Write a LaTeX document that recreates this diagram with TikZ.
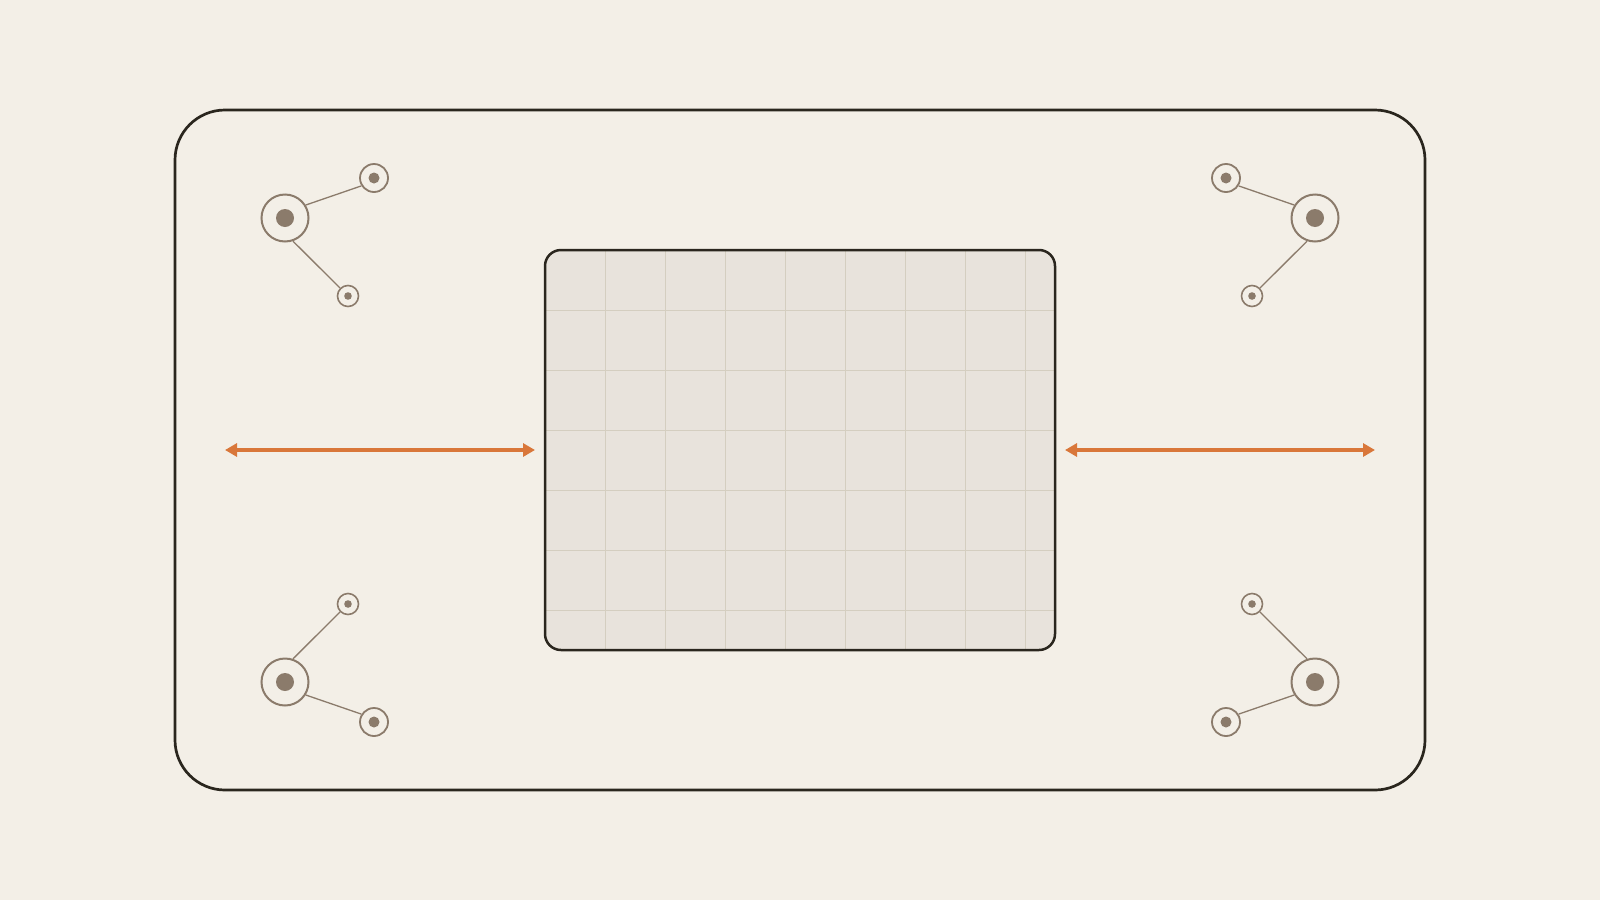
\documentclass[tikz,border=0pt]{standalone}
\usetikzlibrary{arrows.meta}
\definecolor{bg}{HTML}{F3EFE7}
\definecolor{panel}{HTML}{E8E3DC}
\definecolor{gridc}{HTML}{D4CEC0}
\definecolor{ink}{HTML}{2A261E}
\definecolor{nodec}{HTML}{8B7B6B}
\definecolor{arr}{HTML}{D9773A}
\tikzset{
  hub/.style={circle,draw=nodec,fill=bg,line width=2pt,inner sep=0pt,outer sep=1pt,minimum size=47pt},
  leafA/.style={circle,draw=nodec,fill=bg,line width=1.8pt,inner sep=0pt,outer sep=0.9pt,minimum size=28pt},
  leafB/.style={circle,draw=nodec,fill=bg,line width=1.6pt,inner sep=0pt,outer sep=0.8pt,minimum size=21pt},
  dot/.style={circle,fill=nodec,inner sep=0pt,minimum size=#1},
  link/.style={draw=nodec,line width=1.3pt},
  flow/.style={draw=arr,line width=3.5pt,{Triangle[length=12pt,width=13pt]}-{Triangle[length=12pt,width=13pt]}},
}
\begin{document}
\begin{tikzpicture}[x=1pt,y=-1pt]
\fill[bg] (0,0) rectangle (1600,900);
\useasboundingbox (0,0) rectangle (1600,900);
% outer frame
\draw[ink,line width=2.7pt,rounded corners=50pt] (175,110) rectangle (1425,790);
% central panel
\begin{scope}
\clip[rounded corners=16pt] (545,250) rectangle (1055,650);
\fill[panel] (545,250) rectangle (1055,650);
\foreach \x in {605,665,...,1025} \draw[gridc,line width=1pt] (\x,250) -- (\x,650);
\foreach \y in {310,370,...,610} \draw[gridc,line width=1pt] (545,\y) -- (1055,\y);
\end{scope}
\node[draw=ink,line width=2.5pt,rounded corners=16pt,minimum width=510pt,minimum height=400pt,inner sep=0pt,outer sep=0pt] (panel) at (800,450) {};
% arrows
\coordinate (la) at (225,450);
\coordinate (ra) at (1375,450);
\draw[flow,shorten >=10pt] (la) -- (panel.west);
\draw[flow,shorten <=10pt] (panel.east) -- (ra);
% clusters: name / xscale / yscale / hub->a / a / hub->b / b anchors
\foreach \n/\sx/\sy/\ha/\aa/\hb/\bb in {tl/1/1/32/212/-71/135,tr/-1/1/148/-32/251/45,bl/1/-1/-32/148/71/225,br/-1/-1/212/32/109/315}{
  \begin{scope}[shift={(800,450)},xscale=\sx,yscale=\sy]
    \node[hub] (\n h) at (-515,-232) {};
    \node[leafA] (\n a) at (-426,-272) {};
    \node[leafB] (\n b) at (-452,-154) {};
  \end{scope}
  \draw[link] (\n h.\ha) -- (\n a.\aa);
  \draw[link] (\n h.\hb) -- (\n b.\bb);
  \node[dot=18pt] at (\n h) {};
  \node[dot=11pt] at (\n a) {};
  \node[dot=7.6pt] at (\n b) {};
}
\end{tikzpicture}
\end{document}
